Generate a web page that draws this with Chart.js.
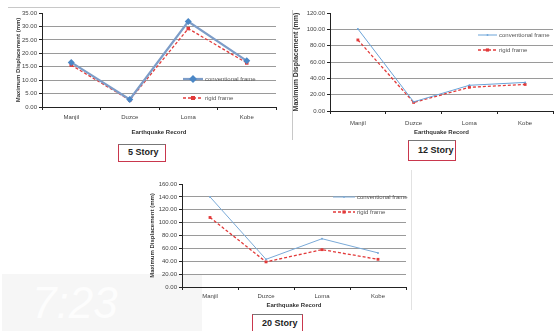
<!DOCTYPE html>
<html lang="en">
<head>
<meta charset="utf-8">
<script src="https://cdn.jsdelivr.net/npm/chart.js@4.4.1/dist/chart.umd.min.js"></script>
<style>
  body { margin: 0; width: 557px; height: 331px; background: #fff; position: relative; overflow: hidden;
         font-family: "Liberation Sans", Arial, sans-serif; }
  .panel { position: absolute; }
  .tag { position: absolute; border: 1.5px solid #c9374d; border-top-color: #777; box-sizing: border-box;
         font-size: 9px; font-weight: bold; color: #222; padding-left: 9px; }
  .shade { position: absolute; left: 2px; top: 274px; width: 200px; height: 57px; background: #f6f6f6;
           color: #fdfdfd; font-size: 44px; font-style: italic; line-height: 57px; padding-left: 30px; box-sizing: border-box; }
</style>
</head>
<body>
  <div class="shade">7:23</div>

  <div class="panel" style="left:8px; top:7px; width:272px; height:133px; border-top:1px solid #c8c8c8;"></div>
  <canvas id="c5" class="panel" style="left:10px; top:0px;" width="270" height="140"></canvas>
  <div class="tag" style="left:118px; top:144px; width:48px; height:18px; line-height:15px;">5 Story</div>

  <div class="panel" style="left:292px; top:10px; width:1px; height:130px; background:#c8c8c8;"></div>
  <canvas id="c12" class="panel" style="left:290px; top:0px;" width="267" height="140"></canvas>
  <div class="tag" style="left:408px; top:140px; width:48px; height:21px; line-height:18px;">12 Story</div>

  <div class="panel" style="left:411px; top:170px; width:1px; height:140px; background:#e2e2e2;"></div>
  <canvas id="c20" class="panel" style="left:145px; top:170px;" width="265" height="142"></canvas>
  <div class="tag" style="left:252px; top:314px; width:51px; height:20px; line-height:16px;">20 Story</div>

<script>
    var records = ['Manjil', 'Duzce', 'Loma', 'Kobe'];
    var seriesNames = ['conventional frame', 'rigid frame'];

    // 5 story
    var conv5 = [16.6, 2.8, 31.8, 17.2];
    var rigid5 = [15.6, 2.6, 29.2, 16.4];
    var ticks5 = [0, 5, 10, 15, 20, 25, 30, 35];

    // 12 story
    var conv12 = [100.5, 11.2, 31.5, 35.0];
    var rigid12 = [87.0, 10.5, 29.0, 32.5];
    var ticks12 = [0, 20, 40, 60, 80, 100, 120];

    // 20 story
    var conv20 = [140, 43, 75, 53];
    var rigid20 = [108, 39, 58, 43];
    var ticks20 = [0, 20, 40, 60, 80, 100, 120, 140, 160];

    // legend drawn inside the plot, like the original
    var boxLegend = {
        id: 'boxLegend',
        afterDraw: function (chart, args, o) {
            var c = chart.ctx;
            chart.data.datasets.forEach(function (ds, i) {
                var x = o.pos[i][0], y = o.pos[i][1], len = o.len;
                c.save();
                c.strokeStyle = ds.borderColor;
                c.lineWidth = ds.borderWidth;
                c.setLineDash(ds.borderDash || []);
                c.beginPath();
                c.moveTo(x, y);
                c.lineTo(x + len, y);
                c.stroke();
                c.setLineDash([]);
                var r = ds.pointRadius, mx = x + len / 2;
                c.fillStyle = ds.backgroundColor;
                if (r > 0) {
                    c.translate(mx, y);
                    if (ds.pointStyle === 'rectRot') c.rotate(Math.PI / 4);
                    c.fillRect(-r * 0.8, -r * 0.8, r * 1.6, r * 1.6);
                    c.setTransform(1, 0, 0, 1, 0, 0);
                }
                c.fillStyle = '#555';
                c.font = '6px "Liberation Sans", Arial';
                c.textBaseline = 'middle';
                c.fillText(ds.label, x + len + 2, y);
                c.restore();
            });
        }
    };

    function BuildChart(id, conv, rigid, yTicks, opt) {
        var ctx = document.getElementById(id).getContext('2d');
        var top = yTicks[yTicks.length - 1];
        return new Chart(ctx, {
            type: 'line',
            data: {
                labels: records,
                datasets: [{
                    label: seriesNames[0],
                    data: conv,
                    borderColor: opt.blue,
                    backgroundColor: opt.blueMark,
                    borderWidth: opt.blueWidth,
                    pointStyle: opt.blueStyle,
                    pointRadius: opt.blueRadius,
                    pointBorderWidth: 0,
                    tension: 0
                }, {
                    label: seriesNames[1],
                    data: rigid,
                    borderColor: '#e23a3a',
                    backgroundColor: '#e23a3a',
                    borderWidth: 1.3,
                    borderDash: [3, 2],
                    pointStyle: 'rect',
                    pointRadius: opt.redRadius,
                    pointBorderWidth: 0,
                    tension: 0
                }]
            },
            options: {
                responsive: false,
                animation: false,
                devicePixelRatio: 1,
                layout: { padding: { top: opt.top, right: opt.right, bottom: 0, left: 0 } },
                plugins: {
                    legend: { display: false },
                    tooltip: { enabled: false },
                    boxLegend: { pos: opt.legend, len: opt.legendLen }
                },
                scales: {
                    x: {
                        offset: true,
                        grid: { offset: true, drawOnChartArea: false, color: '#222', tickLength: 3 },
                        border: { color: '#222' },
                        ticks: { font: { size: 6 }, color: '#444', padding: opt.xPad, maxRotation: 0 },
                        title: { display: true, text: 'Earthquake Record', font: { size: 6, weight: 'bold' }, color: '#333', padding: { top: 0, bottom: opt.xTitlePad } },
                        afterFit: function (s) { s.height = opt.xh; }
                    },
                    y: {
                        min: 0,
                        max: top,
                        afterBuildTicks: function (s) { s.ticks = yTicks.map(function (v) { return { value: v }; }); },
                        grid: {
                            color: function (c) { return c.tick && c.tick.value === top ? 'rgba(0,0,0,0)' : '#9a9a9a'; },
                            tickColor: '#222',
                            tickLength: 3
                        },
                        border: { color: '#222' },
                        ticks: { font: { size: 6 }, color: '#444', padding: 2, callback: function (v) { return v.toFixed(2); } },
                        title: { display: true, text: 'Maximum Displacement (mm)', font: { size: opt.yTitleSize, weight: 'bold' }, color: '#333', padding: { top: opt.yTitlePad, bottom: 0 } },
                        afterFit: function (s) { s.width = opt.yw; }
                    }
                }
            },
            plugins: [boxLegend]
        });
    }

    BuildChart('c5', conv5, rigid5, ticks5, {
        blue: '#7d9dc8', blueMark: '#4b87c6', blueWidth: 2.2, blueStyle: 'rectRot', blueRadius: 3.5, redRadius: 2.5,
        top: 13, right: 0, yw: 32, xh: 33, xPad: 4, xTitlePad: 4, yTitleSize: 6, yTitlePad: 5,
        legend: [[173, 79], [173, 98]], legendLen: 20
    });

    BuildChart('c12', conv12, rigid12, ticks12, {
        blue: '#6aa3d8', blueMark: '#6aa3d8', blueWidth: 1, blueStyle: 'circle', blueRadius: 1, redRadius: 2,
        top: 13, right: 3, yw: 40, xh: 29, xPad: 6, xTitlePad: 4, yTitleSize: 7, yTitlePad: 2,
        legend: [[188, 35], [188, 50]], legendLen: 19
    });

    BuildChart('c20', conv20, rigid20, ticks20, {
        blue: '#7aaad8', blueMark: '#7aaad8', blueWidth: 1, blueStyle: 'circle', blueRadius: 1, redRadius: 2,
        top: 14, right: 4, yw: 37, xh: 25, xPad: 3, xTitlePad: 3, yTitleSize: 6, yTitlePad: 4,
        legend: [[188, 27], [188, 42]], legendLen: 22
    });
</script>
</body>
</html>
